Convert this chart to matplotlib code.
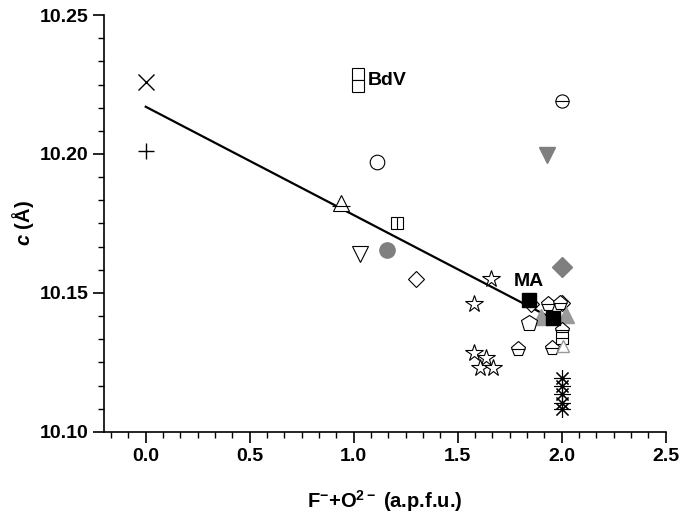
import matplotlib.pyplot as plt
from matplotlib.ticker import MultipleLocator

plt.rcParams['font.family'] = ['Liberation Sans', 'DejaVu Sans']
plt.rcParams['mathtext.fontset'] = 'custom'
plt.rcParams['mathtext.rm'] = 'Liberation Sans:bold'
plt.rcParams['mathtext.it'] = 'Liberation Sans:italic:bold'
plt.rcParams['mathtext.bf'] = 'Liberation Sans:bold'

# data
cross_x, cross_y = [0.0], [10.226]
plus_x, plus_y = [0.0], [10.201]
bdv_x, bdv_y = [1.02, 1.02], [10.2288, 10.2245]
circ_line_x, circ_line_y = [2.0], [10.2192]
circ_x, circ_y = [1.11], [10.197]
gray_dtri_x, gray_dtri_y = [1.93], [10.1996]
tri_line_x, tri_line_y = [0.94], [10.1825]
sq_vline_x, sq_vline_y = [1.21], [10.1753]
dtri_x, dtri_y = [1.03], [10.164]
gray_circ_x, gray_circ_y = [1.16], [10.1654]
diam_x, diam_y = [1.30, 1.85, 2.0], [10.155, 10.146, 10.1465]
gray_diam_x, gray_diam_y = [2.0], [10.1592]
star_x = [1.66, 1.58, 1.58, 1.635, 1.607, 1.668]
star_y = [10.155, 10.146, 10.1285, 10.1265, 10.1229, 10.1229]
gray_tri_x, gray_tri_y = [1.90, 2.02], [10.1415, 10.142]
black_sq_x, black_sq_y = [1.84, 1.96], [10.1475, 10.1409]
pent_x, pent_y = [1.84], [10.139]
pent_line_x = [1.79, 1.955, 1.935, 1.99, 2.0]
pent_line_y = [10.1297, 10.130, 10.146, 10.1465, 10.1367]
sq_line_x, sq_line_y = [2.0], [10.1337]
small_tri_x, small_tri_y = [2.005], [10.131]
aster_x = [2.0, 2.0, 2.0, 2.0, 2.0]
aster_y = [10.1193, 10.1164, 10.1135, 10.1105, 10.1082]
fit_x, fit_y = [0.0, 2.0], [10.217, 10.139]

fig, ax = plt.subplots(figsize=(6.85, 5.19), dpi=100)
fig.subplots_adjust(left=0.152, right=0.972, top=0.971, bottom=0.168)

open_kw = dict(linestyle='none', mfc='white', mec='black', mew=0.8)
gray = '#7f7f7f'

ax.plot(fit_x, fit_y, color='black', lw=1.6, zorder=2)

ax.plot(cross_x, cross_y, 'x', color='black', ms=11, mew=1.0)
ax.plot(plus_x, plus_y, '+', color='black', ms=11, mew=1.0)
ax.plot(bdv_x, bdv_y, 's', ms=8.6, **open_kw)
ax.plot(circ_line_x, circ_line_y, 'o', ms=9.5, **open_kw)
ax.plot(circ_line_x, circ_line_y, '_', color='black', ms=9.5, mew=0.8)
ax.plot(circ_x, circ_y, 'o', ms=10.5, **open_kw)
ax.plot(gray_dtri_x, gray_dtri_y, 'v', color=gray, ms=11, mec=gray, linestyle='none')
ax.plot(tri_line_x, tri_line_y, '^', ms=11, **open_kw)
ax.plot(tri_line_x, [y - 0.0012 for y in tri_line_y], '_', color='black', ms=13, mew=0.8)
ax.plot(sq_vline_x, sq_vline_y, 's', ms=8.5, **open_kw)
ax.plot(sq_vline_x, sq_vline_y, '|', color='black', ms=8.5, mew=0.8)
ax.plot(dtri_x, dtri_y, 'v', ms=12, **open_kw)
ax.plot(gray_circ_x, gray_circ_y, 'o', color=gray, ms=11, linestyle='none')
ax.plot(diam_x, diam_y, 'D', ms=8.5, **open_kw)
ax.plot(gray_tri_x, gray_tri_y, '^', color='#9a9a9a', ms=11, linestyle='none')
ax.plot(gray_diam_x, gray_diam_y, 'D', color=gray, ms=10, linestyle='none')
ax.plot(star_x, star_y, '*', ms=13, **open_kw)
ax.plot(pent_x, pent_y, 'p', ms=12, **open_kw)
ax.plot(pent_line_x, pent_line_y, 'p', ms=11, **open_kw)
ax.plot(pent_line_x, pent_line_y, '_', color='black', ms=10, mew=0.8)
ax.plot(sq_line_x, sq_line_y, 's', ms=8, **open_kw)
ax.plot(sq_line_x, sq_line_y, '_', color='black', ms=8, mew=0.8)
ax.plot(small_tri_x, small_tri_y, '^', ms=9, mfc='white', mec='#999999', linestyle='none')
ax.plot(aster_x, aster_y, marker=(8, 2, 0), color='black', ms=12, mew=0.8, linestyle='none')
ax.plot(black_sq_x, black_sq_y, 's', color='black', ms=10.5, linestyle='none', zorder=5)

ax.text(1.065, 10.2265, 'BdV', fontsize=14, fontweight='bold', va='center')
ax.text(1.77, 10.151, 'MA', fontsize=14, fontweight='bold', va='bottom')

ax.set_xlim(-0.2, 2.5)
ax.set_ylim(10.10, 10.25)
ax.xaxis.set_major_locator(MultipleLocator(0.5))
ax.xaxis.set_minor_locator(MultipleLocator(0.5 / 6))
ax.yaxis.set_major_locator(MultipleLocator(0.05))
ax.yaxis.set_minor_locator(MultipleLocator(0.05 / 6))
ax.yaxis.set_major_formatter(plt.FormatStrFormatter('%.2f'))
ax.xaxis.set_major_formatter(plt.FormatStrFormatter('%.1f'))

for side in ['top', 'right']:
    ax.spines[side].set_visible(False)
for side in ['left', 'bottom']:
    ax.spines[side].set_linewidth(1.2)
ax.tick_params(which='major', direction='out', length=8, width=1.2, labelsize=14)
ax.tick_params(which='minor', direction='out', length=4.5, width=1.0)
for lab in ax.get_xticklabels() + ax.get_yticklabels():
    lab.set_fontweight('bold')

ax.set_xlabel(r'F$^{-}$+O$^{2-}$ (a.p.f.u.)', fontsize=14.5, fontweight='bold', labelpad=17)
ax.set_ylabel(r'$c$ (Å)', fontsize=14.5, fontweight='bold', labelpad=2)

fig.savefig('out.png', dpi=100)
